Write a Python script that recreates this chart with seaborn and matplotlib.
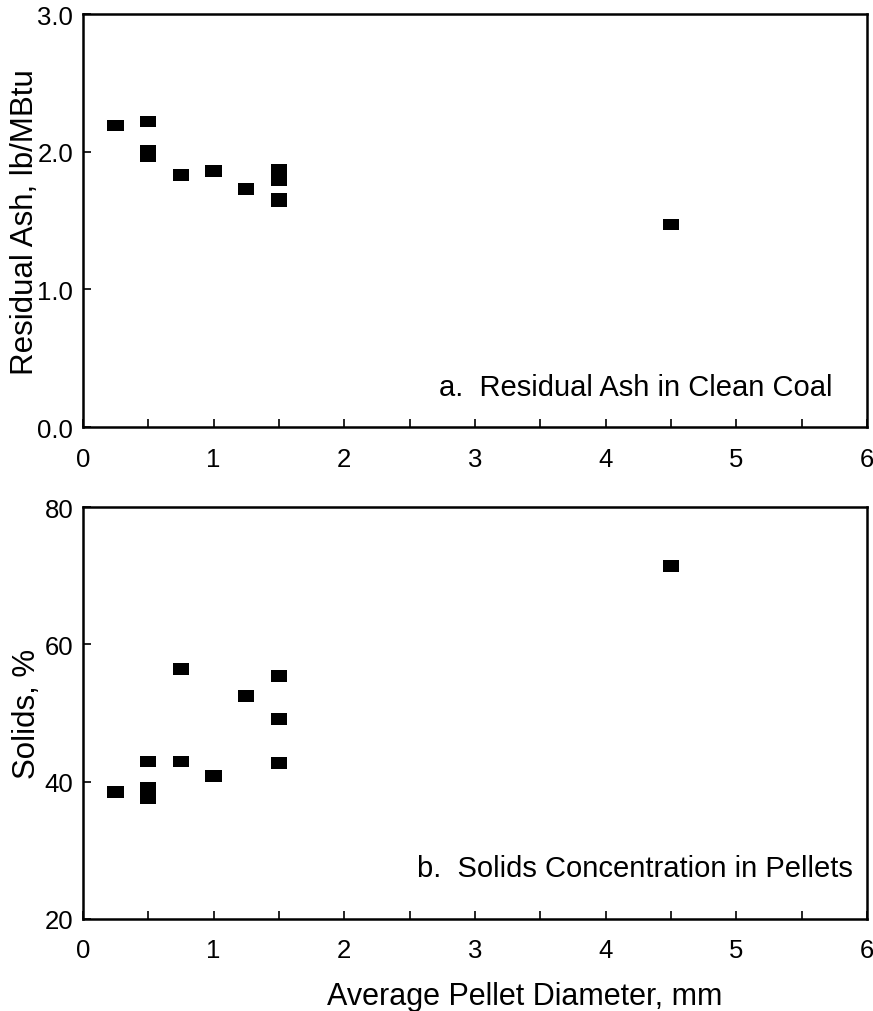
import matplotlib
matplotlib.use("Agg")
import matplotlib.pyplot as plt
import seaborn as sns
import pandas as pd
from matplotlib.ticker import MultipleLocator

# Data
top_x = [0.25, 0.5, 0.5, 0.5, 0.75, 1.0, 1.25, 1.5, 1.5, 1.5, 1.5, 4.5]
top_y = [2.19, 2.22, 2.01, 1.97, 1.83, 1.86, 1.73, 1.87, 1.79, 1.66, 1.64, 1.47]
bot_x = [0.25, 0.5, 0.5, 0.5, 0.75, 0.75, 1.0, 1.25, 1.5, 1.5, 1.5, 4.5]
bot_y = [38.5, 42.9, 39.1, 37.5, 56.4, 42.9, 40.8, 52.5, 55.4, 49.1, 42.7, 71.4]

top_yticks = [0.0, 1.0, 2.0, 3.0]
top_yticklabels = ["0.0", "1.0", "2.0", "3.0"]
bot_yticks = [20, 40, 60, 80]
bot_yticklabels = ["20", "40", "60", "80"]
xticks = [0, 1, 2, 3, 4, 5, 6]

top_label = "Residual Ash, lb/MBtu"
bot_label = "Solids, %"
x_label = "Average Pellet Diameter, mm"
top_note = "a.  Residual Ash in Clean Coal"
bot_note = "b.  Solids Concentration in Pellets"

sns.set_theme(style="white")
plt.rcParams['font.family'] = ['Liberation Sans', 'DejaVu Sans']

fig = plt.figure(figsize=(8.73, 10.12), dpi=100)
ax1 = fig.add_axes([0.095, 0.577, 0.898, 0.408])
ax2 = fig.add_axes([0.095, 0.091, 0.898, 0.407])

rect = [(-0.5, -0.35), (0.5, -0.35), (0.5, 0.35), (-0.5, 0.35), (-0.5, -0.35)]

df1 = pd.DataFrame({"x": top_x, "y": top_y})
df2 = pd.DataFrame({"x": bot_x, "y": bot_y})

for ax, df, yl, yt, ytl, lab, note, lab_x, note_xy in [
    (ax1, df1, (0, 3), top_yticks, top_yticklabels, top_label, top_note, -0.055, (0.956, 0.078)),
    (ax2, df2, (20, 80), bot_yticks, bot_yticklabels, bot_label, bot_note, -0.052, (0.982, 0.104)),
]:
    sns.scatterplot(data=df, x="x", y="y", ax=ax, marker=rect, s=138,
                    color="black", edgecolor="none", linewidth=0, legend=False)
    ax.set_xlim(0, 6)
    ax.set_ylim(*yl)
    ax.set_xticks(xticks)
    ax.set_xticklabels([str(t) for t in xticks])
    ax.xaxis.set_minor_locator(MultipleLocator(0.5))
    ax.set_yticks(yt)
    ax.set_yticklabels(ytl)
    ax.tick_params(axis="both", which="both", direction="in", length=6, width=1.2,
                   color="black", labelsize=18.5, labelcolor="black")
    ax.tick_params(axis="x", which="both", bottom=True, top=False, pad=14)
    ax.tick_params(axis="y", which="both", left=True, right=False, pad=7)
    for sp in ax.spines.values():
        sp.set_visible(True)
        sp.set_color("black")
        sp.set_linewidth(1.8)
    ax.set_ylabel(lab, fontsize=22.5, color="black")
    ax.yaxis.set_label_coords(lab_x, 0.5)
    ax.set_xlabel("")
    ax.text(note_xy[0], note_xy[1], note, transform=ax.transAxes,
            ha="right", va="baseline", fontsize=21, color="black")

ax2.set_xlabel(x_label, fontsize=22, color="black")
ax2.xaxis.set_label_coords(0.563, -0.15)

fig.savefig("out.png", dpi=100, facecolor="white")
